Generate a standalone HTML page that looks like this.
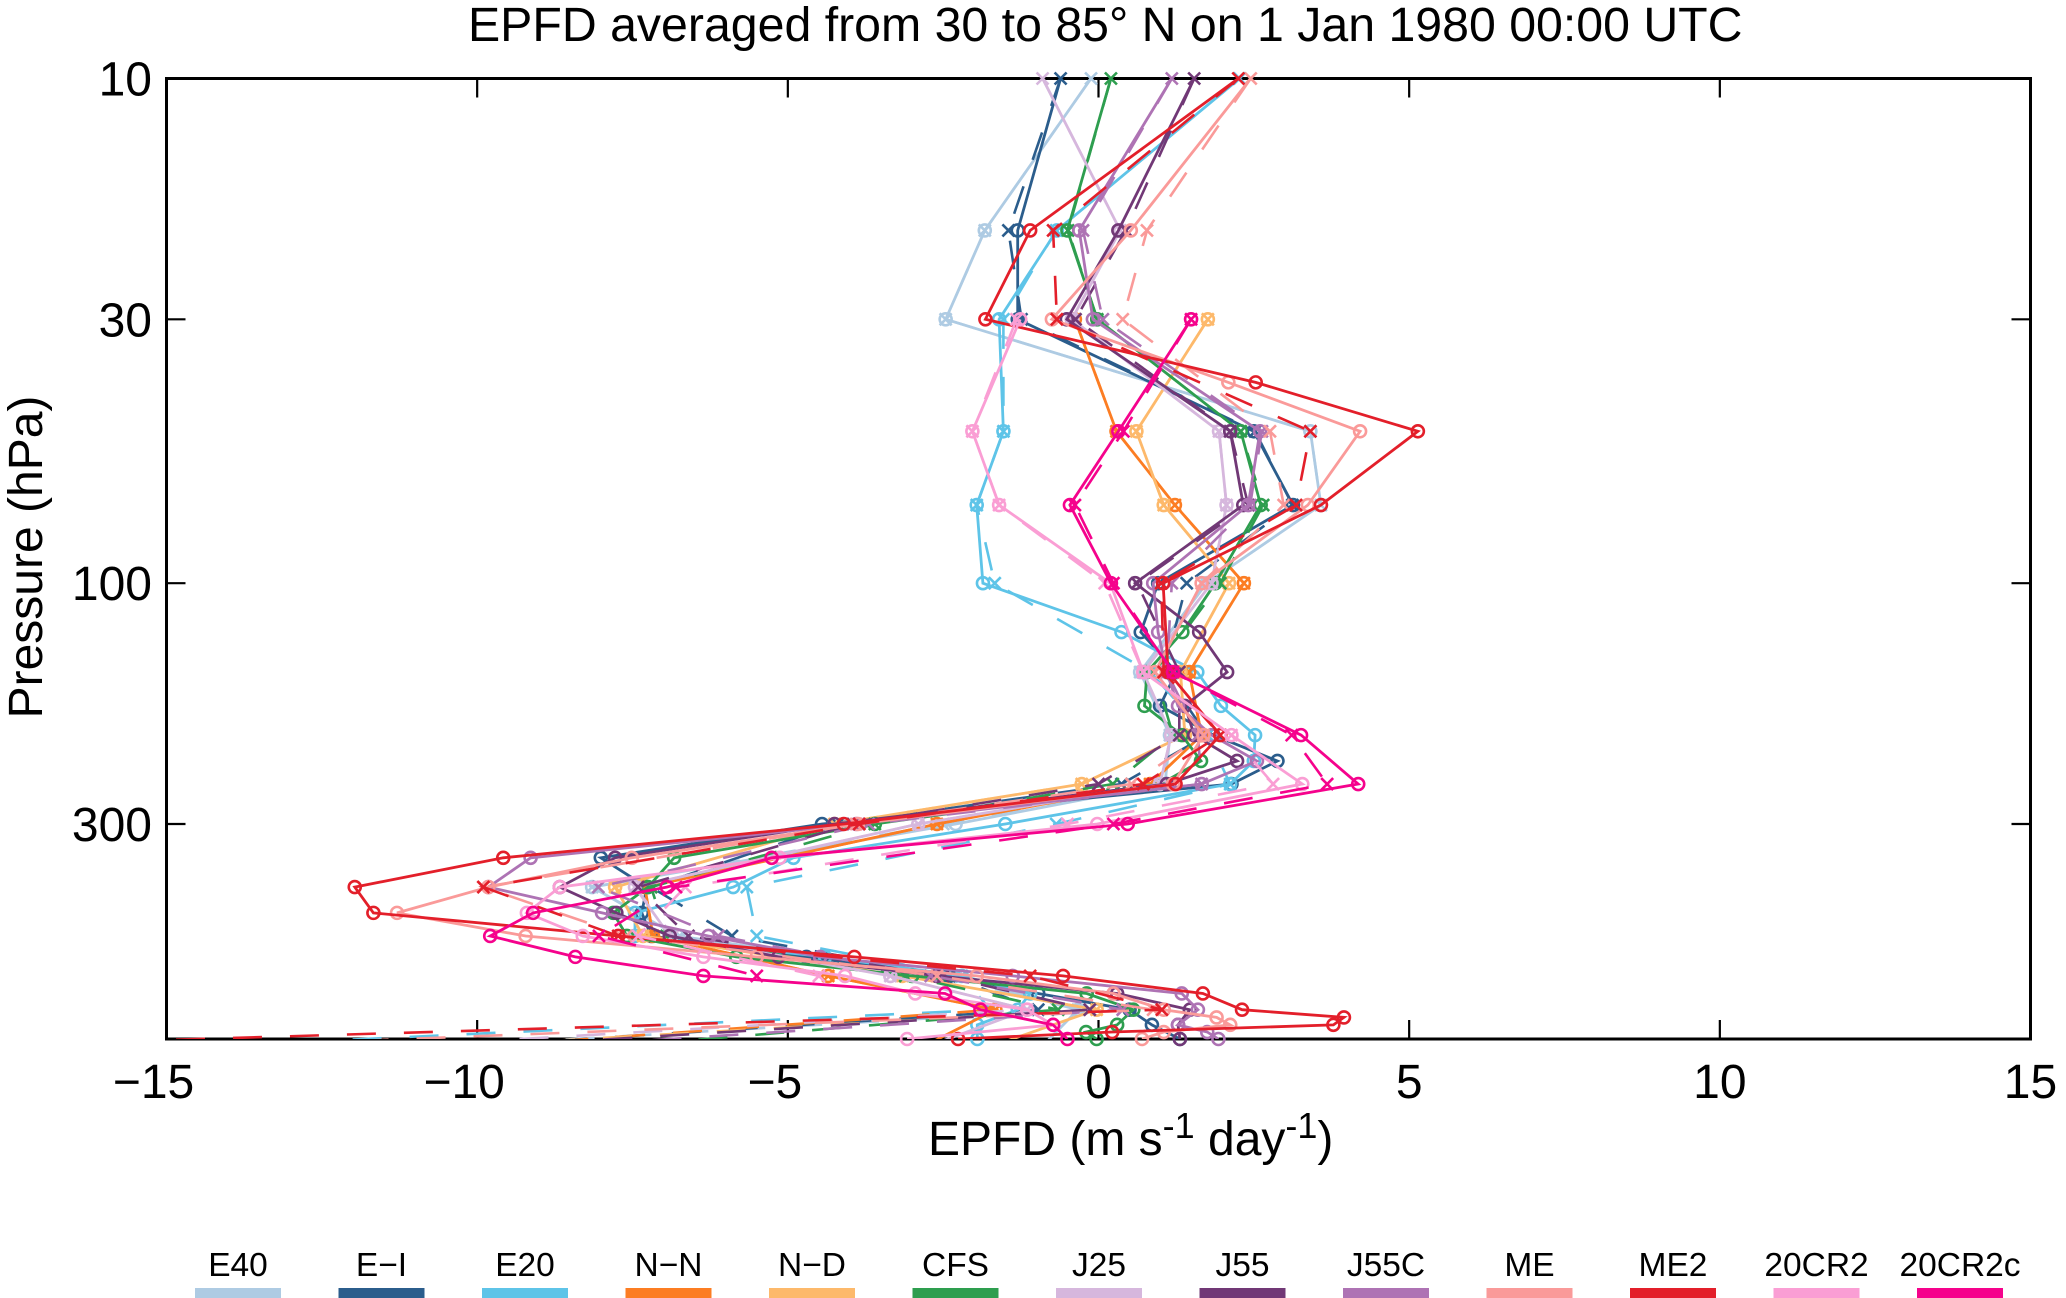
<!DOCTYPE html>
<html lang="en">
<head>
<meta charset="utf-8">
<title>EPFD profile chart</title>
<style>
html,body{margin:0;padding:0;background:#fff;}
svg{display:block;font-family:"Liberation Sans",Arial,sans-serif;fill:#000;}
</style>
</head>
<body>
<svg id="chart" xmlns="http://www.w3.org/2000/svg" width="2066" height="1298" viewBox="0 0 2066 1298">
  <rect x="0" y="0" width="2066" height="1298" fill="#fff"/>
  <defs><clipPath id="plot-clip"><rect x="166.5" y="78.5" width="1864" height="960.5"/></clipPath></defs>
  <text x="468" y="41" font-size="48.25">EPFD averaged from 30 to 85° N on 1 Jan 1980 00:00 UTC</text>
  <text x="928" y="1155" font-size="48">EPFD (m s<tspan font-size="36" dy="-17">-1</tspan><tspan dy="17"> day</tspan><tspan font-size="36" dy="-17">-1</tspan><tspan dy="17">)</tspan></text>
  <text transform="translate(42 557) rotate(-90)" text-anchor="middle" font-size="48">Pressure (hPa)</text>
  <g id="axes"></g>
  <g id="series"></g>
  <g id="legend"></g>
</svg>
<script>
var n = null;
/* axis ticks */
var xTicks = [-15, -10, -5, 0, 5, 10, 15];
var yTicks = [10, 30, 100, 300];
/* pressure levels (hPa) of solid circle series and dashed cross series */
var solidLevels = [10,20,30,40,50,70,100,125,150,175,200,225,250,300,350,400,450,500,550,600,650,700,725,750,775,800,850];
var dashLevels = [10,20,30,50,70,100,150,200,250,300,400,500,600,700,850];
/* categories */
var names = ["E40","E\u2212I","E20","N\u2212N","N\u2212D","CFS","J25","J55","J55C","ME","ME2","20CR2","20CR2c"];
var colors = ["#aecbe3","#2b5d8c","#5ec4e8","#fc7d23","#fdb96b","#2e9e4f","#d6b7dd","#713876","#ae73b4","#fa9a99","#e31f2a","#fa9ed4","#f5028c"];
/* solid series, m/s/day */
var e40Solid   = [-0.12,-1.83,-2.46,n,3.41,3.58,1.74,n,0.67,n,1.15,n,1.07,-2.3,n,-8.15,n,-6.77,n,-2.3,n,-0.33,n,n,n,n,-1.0];
var eiSolid    = [-0.61,-1.30,-1.30,n,2.50,3.13,0.96,0.68,1.25,0.99,1.85,2.88,2.14,-4.45,-8.01,-7.27,-7.35,-7.2,-4.7,-2.4,-0.97,0.5,n,0.86,n,1.31,n];
var e20Solid   = [2.27,-0.67,-1.60,n,-1.53,-1.96,-1.86,0.37,1.59,1.97,2.52,2.5,2.12,-1.5,-4.91,-5.88,-7.46,-7.46,-4.4,-2.2,-1.1,-1.3,n,-1.95,n,-1.95,n];
var nnSolid    = [n,n,-0.38,n,0.29,1.23,2.34,n,1.46,n,1.66,n,0.83,-2.6,n,-7.3,n,-7.17,n,-4.35,n,-1.66,n,n,n,n,-3.0];
var ndSolid    = [n,n,1.76,n,0.61,1.05,2.10,n,1.32,n,1.39,n,-0.27,-4.25,n,-7.78,n,-7.33,n,-3.16,n,-0.03,n,n,n,n,-2.0];
var cfsSolid   = [0.2,-0.5,-0.02,n,2.29,2.61,1.88,1.35,0.78,0.74,1.34,1.65,1.0,-3.6,-6.83,-7.25,-7.81,-7.59,-5.83,-3.0,-0.19,0.56,n,0.3,-0.2,-0.03,n];
var j25Solid   = [-0.9,0.35,-0.43,n,1.94,2.06,1.82,n,0.72,n,1.17,n,0.99,-2.9,n,-7.46,n,-6.9,n,-3.35,n,-1.15,n,n,n,n,-3.0];
var j55Solid   = [1.54,0.32,-0.51,n,2.12,2.33,0.59,1.62,2.07,1.39,1.54,2.23,1.1,-4.25,-7.78,-8.67,-7.76,-6.9,-5.15,-2.6,0.3,1.47,n,1.28,n,1.31,n];
var j55cSolid  = [1.18,-0.31,-0.09,n,2.60,2.41,0.88,0.96,1.10,1.28,1.82,2.55,1.66,-3.9,-9.14,-9.82,-7.99,-6.28,-4.48,-1.38,1.34,1.6,n,1.28,1.75,1.93,n];
var meSolid    = [2.45,0.52,-0.75,2.09,4.21,3.37,1.66,n,0.91,n,1.69,n,1.2,-3.87,-7.51,-9.82,-11.29,-9.22,-5.5,-1.96,0.24,1.05,1.9,2.12,1.05,0.7,n];
var me2Solid   = [2.25,-1.10,-1.82,2.53,5.14,3.58,1.04,n,1.12,n,1.96,n,1.24,-4.1,-9.58,-11.97,-11.67,-7.73,-3.93,-0.57,1.68,2.31,3.95,3.78,0.22,-2.26,n];
var cr2Solid   = [n,n,-1.26,n,-2.03,-1.6,0.19,n,0.72,n,2.14,n,3.28,-0.02,-5.13,-8.67,-9.2,-8.3,-6.36,-4.08,-2.95,-1.15,n,-0.73,n,-3.08,n];
var cr2cSolid  = [n,n,1.49,n,0.32,-0.46,0.2,n,1.2,n,3.26,n,4.18,0.47,-5.26,-6.95,-9.1,-9.79,-8.42,-6.36,-2.47,-1.9,n,-0.73,n,-0.5,n];
/* dashed series, m/s/day */
var e40Dash    = [-0.12,-1.83,-2.46,3.41,3.58,1.74,0.67,1.15,1.07,-2.5,-8.15,-6.74,-2.5,-0.33,-12.1];
var eiDash     = [-0.61,-1.45,-1.24,2.52,3.12,1.42,1.05,1.75,0.37,-4.2,-7.2,-5.9,-2.4,-0.97,-11.6];
var e20Dash    = [2.27,-0.68,-1.53,-1.53,-1.96,-1.67,0.83,1.75,2.12,-0.68,-5.66,-5.5,-2.2,-1.74,-16.4];
var nnDash     = [n,n,-0.38,0.29,1.23,2.34,1.46,1.66,0.83,-2.6,-7.3,-7.17,-4.35,-1.66,-11.2];
var ndDash     = [n,n,1.76,0.61,1.05,2.10,1.32,1.39,-0.27,-4.25,-7.78,-7.33,-3.16,-0.03,-12.0];
var cfsDash    = [0.2,-0.49,-0.02,2.29,2.65,1.96,0.9,1.2,0.23,-3.6,-7.2,-6.95,-3.11,-0.65,-8.9];
var j25Dash    = [-0.9,0.35,-0.43,1.94,2.06,1.82,0.72,1.17,0.99,-2.9,-7.46,-6.85,-3.35,-1.15,-13.0];
var j55Dash    = [1.54,0.44,-0.37,2.12,2.41,0.62,1.3,1.3,0.0,-3.95,-7.41,-6.6,-2.5,-0.14,-11.3];
var j55cDash   = [1.18,-0.25,0.07,2.63,2.44,1.18,1.1,1.6,1.66,-3.7,-8.05,-6.12,-2.7,0.39,-10.2];
var meDash     = [2.45,0.78,0.39,2.76,2.98,1.66,0.91,1.69,0.53,-3.9,-9.9,-7.6,-2.6,0.88,-16.6];
var me2Dash    = [2.25,-0.73,-0.67,3.41,3.18,1.01,1.05,1.96,0.72,-3.85,-9.9,-7.73,-1.1,1.02,-21.5];
var cr2Dash    = [n,n,-1.32,-2.03,-1.6,0.10,0.72,2.14,2.81,-0.5,-6.65,-7.41,-4.5,n,n];
var cr2cDash   = [n,n,1.49,0.4,-0.38,0.24,1.2,3.11,3.68,0.24,-6.8,-8.04,-5.5,n,n];

var solidSeries = [e40Solid,eiSolid,e20Solid,nnSolid,ndSolid,cfsSolid,j25Solid,j55Solid,j55cSolid,meSolid,me2Solid,cr2Solid,cr2cSolid];
var dashSeries = [e40Dash,eiDash,e20Dash,nnDash,ndDash,cfsDash,j25Dash,j55Dash,j55cDash,meDash,me2Dash,cr2Dash,cr2cDash];

var NS = "http://www.w3.org/2000/svg";
var L = 166.5, R = 2030.5, T = 78.5, B = 1039;
function xs(v) { return L + (v + 15) / 30 * (R - L); }
function ys(p) { return T + (Math.log(p / 10) / Math.log(80)) * (B - T); }
function mk(tag, attrs, parent) {
  var e = document.createElementNS(NS, tag);
  for (var k in attrs) { e.setAttribute(k, attrs[k]); }
  parent.appendChild(e);
  return e;
}
function slug(s) { return s.toLowerCase().replace(/[^a-z0-9]+/g, "-"); }

var axes = document.getElementById("axes");
var frame = mk("rect", {x: L, y: T, width: R - L, height: B - T, fill: "none", stroke: "#000", "stroke-width": 3}, axes);


xTicks.forEach(function (t) {
  var x = xs(t);
  var a = mk("line", {x1: x, x2: x, y1: B, y2: B - 19, stroke: "#000", "stroke-width": 2.2}, axes);
  
  
  var b = mk("line", {x1: x, x2: x, y1: T, y2: T + 19, stroke: "#000", "stroke-width": 2.2}, axes);
  
  
  var lab = mk("text", {x: t < 0 ? x - 13 : x, y: 1098, "text-anchor": "middle", "font-size": 48}, axes);
  
  
  lab.textContent = t < 0 ? "\u2212" + (-t) : String(t);
});
yTicks.forEach(function (t) {
  var y = ys(t);
  var a = mk("line", {x1: L, x2: L + 19, y1: y, y2: y, stroke: "#000", "stroke-width": 2.2}, axes);
  
  
  var b = mk("line", {x1: R, x2: R - 19, y1: y, y2: y, stroke: "#000", "stroke-width": 2.2}, axes);
  
  
  var lab = mk("text", {x: 152, y: y + 17, "text-anchor": "end", "font-size": 48}, axes);
  
  
  lab.textContent = String(t);
});

function pointsOf(vals, levels) {
  var pts = [];
  vals.forEach(function (v, i) {
    if (v !== null) { pts.push([xs(v), ys(levels[i]), levels[i]]); }
  });
  return pts;
}
function polyStr(pts) { return pts.map(function (p) { return p[0].toFixed(1) + "," + p[1].toFixed(1); }).join(" "); }

var seriesG = document.getElementById("series");
names.forEach(function (name, i) {
  var color = colors[i];
  var g = mk("g", {}, seriesG);
  
  

  var dPts = pointsOf(dashSeries[i], dashLevels);
  var dl = mk("polyline", {points: polyStr(dPts), fill: "none", stroke: color, "stroke-width": 2.6, "stroke-dasharray": "29 28", "clip-path": "url(#plot-clip)"}, g);
  
  

  var sPts = pointsOf(solidSeries[i], solidLevels);
  var sl = mk("polyline", {points: polyStr(sPts), fill: "none", stroke: color, "stroke-width": 2.8, "clip-path": "url(#plot-clip)"}, g);
  
  

  dPts.forEach(function (p) {
    if (p[2] > 800) { return; }
    var c = mk("path", {d: "M" + (p[0] - 6) + " " + (p[1] - 6) + "L" + (p[0] + 6) + " " + (p[1] + 6) + "M" + (p[0] - 6) + " " + (p[1] + 6) + "L" + (p[0] + 6) + " " + (p[1] - 6), fill: "none", stroke: color, "stroke-width": 2.6}, g);
    
    
  });
  sPts.forEach(function (p) {
    if (p[2] <= 10 || p[2] > 800) { return; }
    var c = mk("circle", {cx: p[0], cy: p[1], r: 6, fill: "none", stroke: color, "stroke-width": 2.6}, g);
    
    
  });
});

var legend = document.getElementById("legend");
names.forEach(function (name, i) {
  var x = 195 + i * 143.5;
  var lab = mk("text", {x: x + 43, y: 1276, "text-anchor": "middle", "font-size": 33.5}, legend);
  
  
  lab.textContent = name;
  var sw = mk("rect", {x: x, y: 1288, width: 86, height: 10, fill: colors[i]}, legend);
  
  
});
</script>
</body>
</html>
